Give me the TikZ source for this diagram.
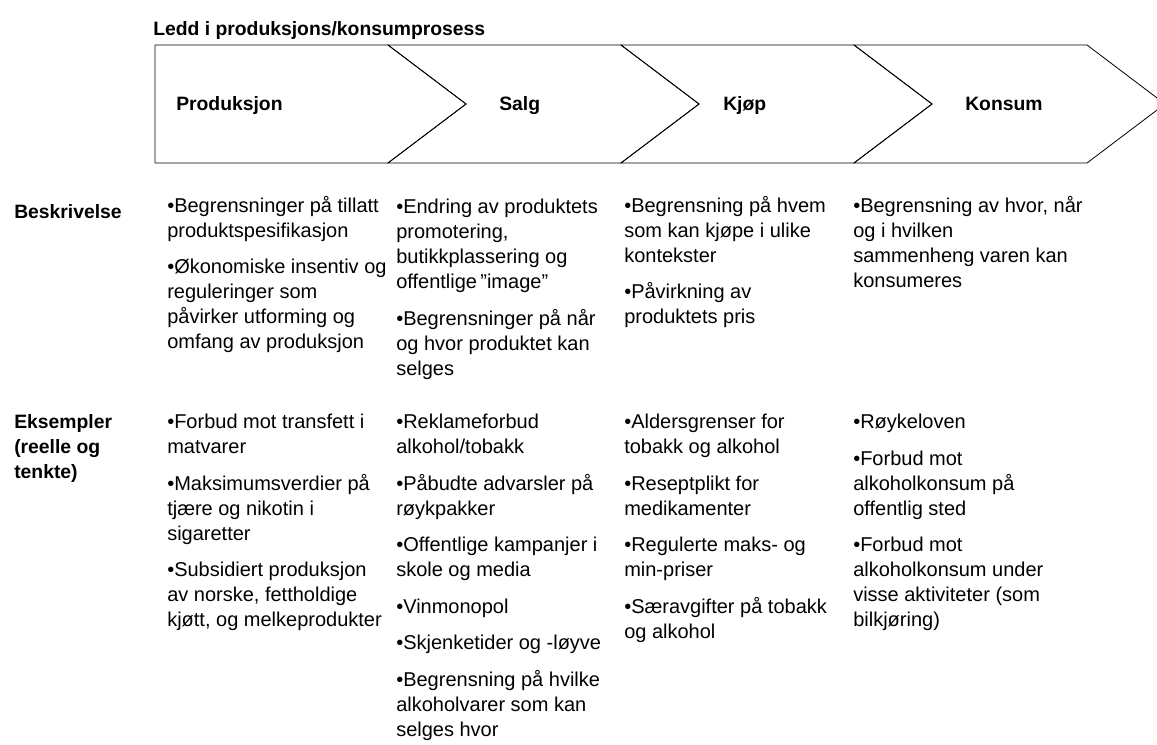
\documentclass[tikz,border=0pt]{standalone}
\usepackage{fontspec}
\setmainfont{Liberation Sans}
\usetikzlibrary{positioning}
\tikzset{chevron/.style={draw=black,line width=0.6pt}}
\tikzset{phase/.style={anchor=base west,inner sep=0pt,
                       font=\bfseries\fontsize{14.5}{18.75}\selectfont}}
\tikzset{rowhead/.style={phase,anchor=north west,align=left,
                         execute at begin node={\rule{0pt}{17pt}}}}
\tikzset{cell/.style={anchor=north west,inner sep=0pt,align=left,
                      font=\fontsize{15}{18.75}\selectfont,
                      execute at begin node={\rule{0pt}{17pt}}}}
\newcommand{\itemgap}{\\[8.6pt]}

\begin{document}
\begin{tikzpicture}[x=0.75pt,y=-0.75pt]
  \useasboundingbox (0,0) rectangle (1157,745);

  % Title above the process arrows
  \node[phase] (title) at (153,36) {Ledd i produksjons/konsumprosess};

  % The process arrows: a flat-ended first box, then three notched chevrons
  \draw[chevron] (155,45) -- (388,45) -- (466,104) -- (388,163) -- (155,163) -- cycle;
  \foreach \x in {388,621,854}
    \draw[chevron] (\x,45) -- (\x+233,45) -- (\x+311,104) -- (\x+233,163)
                   -- (\x,163) -- (\x+78,104) -- cycle;

  \node[phase] (produksjon) at (176,111) {Produksjon};
  \node[phase] (salg)       at (499,111) {Salg};
  \node[phase] (kjop)       at (723,111) {Kjøp};
  \node[phase] (konsum)     at (965,111) {Konsum};

  % First row: descriptions (top of each cell sits 22.7px above its first baseline)
  \node[rowhead] (beskrivelse) at (14,196) {Beskrivelse};
  \node[cell] (besk-prod) at (167,196) {•Begrensninger på tillatt\\
    produktspesifikasjon\itemgap
    •Økonomiske insentiv og\\reguleringer som\\
    påvirker utforming og\\omfang av produksjon};
  \node[cell] (besk-salg) at (396,199) {•Endring av produktets\\
    promotering,\\butikkplassering og\\offentlige\,”image”\itemgap
    •Begrensninger på når\\og hvor produktet kan\\selges};
  \node[cell] (besk-kjop) at (624,196) {•Begrensning på hvem\\
    som kan kjøpe i ulike\\kontekster\itemgap
    •Påvirkning av\\produktets pris};
  \node[cell] (besk-konsum) at (853,196) {•Begrensning av hvor, når\\
    og i hvilken\\sammenheng varen kan\\konsumeres};

  % Second row: examples
  \node[rowhead] (eksempler) at (14,414) {Eksempler\\(reelle og\\tenkte)};
  \node[cell] (eks-prod) at (167,414) {•Forbud mot transfett i\\matvarer\itemgap
    •Maksimumsverdier på\\tjære og nikotin i\\sigaretter\itemgap
    •Subsidiert produksjon\\av norske, fettholdige\\kjøtt, og melkeprodukter};
  \node[cell] (eks-salg) at (396,414) {•Reklameforbud\\alkohol/tobakk\itemgap
    •Påbudte advarsler på\\røykpakker\itemgap
    •Offentlige kampanjer i\\skole og media\itemgap
    •Vinmonopol\itemgap
    •Skjenketider og -løyve\itemgap
    •Begrensning på hvilke\\alkoholvarer som kan\\selges hvor};
  \node[cell] (eks-kjop) at (624,414) {•Aldersgrenser for\\tobakk og alkohol\itemgap
    •Reseptplikt for\\medikamenter\itemgap
    •Regulerte maks- og\\min-priser\itemgap
    •Særavgifter på tobakk\\og alkohol};
  \node[cell] (eks-konsum) at (853,414) {•Røykeloven\itemgap
    •Forbud mot\\alkoholkonsum på\\offentlig sted\itemgap
    •Forbud mot\\alkoholkonsum under\\visse aktiviteter (som\\bilkjøring)};
\end{tikzpicture}
\end{document}
